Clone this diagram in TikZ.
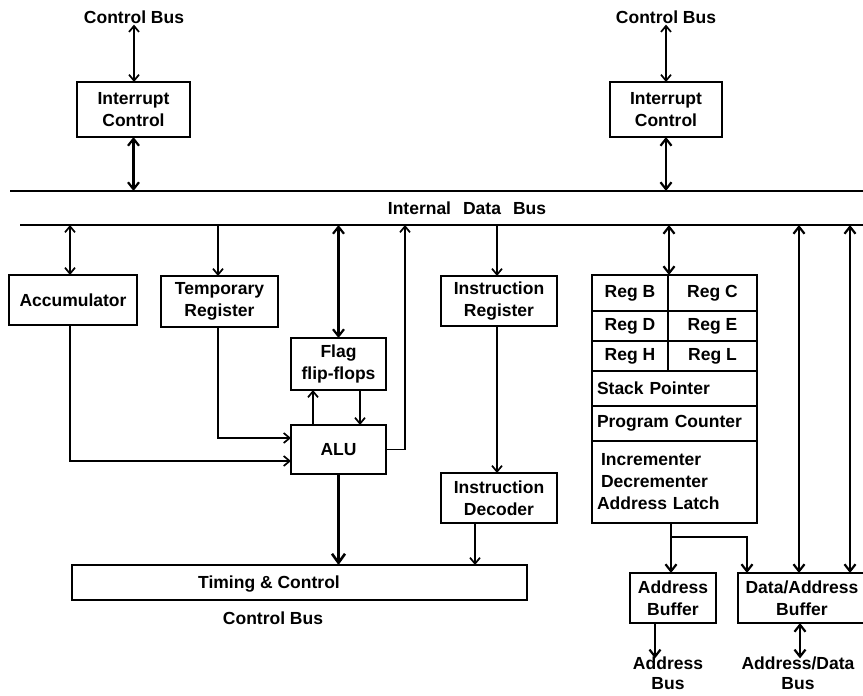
\documentclass[tikz,border=0pt]{standalone}
\usepackage{fontspec}
\setmainfont{Liberation Sans}
\usetikzlibrary{arrows.meta}
\newcommand\diaglab{\fontsize{17.5}{22}\selectfont\bfseries}
\newcommand\diagbus{\fontsize{17.5}{20}\selectfont\bfseries}
\begin{document}
\begin{tikzpicture}[x=1pt,y=-1pt,
  >={Straight Barb[length=6pt,width=10pt,line width=1.7pt]},
  box/.style={draw,line width=1.9pt,inner sep=0pt,outer sep=0pt,align=center,font=\diaglab},
  cellbox/.style={draw,line width=1.9pt,inner sep=0pt,outer sep=0pt,font=\diaglab},
  lab/.style={inner sep=1pt,align=center,font=\diaglab},
  thinc/.style={line width=1.5pt},
  thickc/.style={line width=2.5pt,>={Straight Barb[length=7pt,width=11pt,line width=2.2pt]}},
  busline/.style={line width=2.2pt}]
\useasboundingbox (0,0) rectangle (863,696);
\clip (0,0) rectangle (863,696);

% helper coordinates
\coordinate (bt) at (0,191);
\coordinate (bb) at (0,225);
\coordinate (xacc) at (70,0);
\coordinate (yacc) at (0,461);
\coordinate (xtmp) at (218,0);
\coordinate (ytmp) at (0,438);
\coordinate (xup) at (313,0);
\coordinate (xdn) at (360,0);
\coordinate (xid) at (475,0);
\coordinate (xir) at (497,0);
\coordinate (xreg) at (669,0);
\coordinate (spl) at (671,537);
\coordinate (xda) at (747,0);
\coordinate (xl1) at (799,0);
\coordinate (xl2) at (850,0);
\coordinate (xab) at (655,0);
\coordinate (xdb) at (800,0);

% top
\node[lab] (cbL) at (134,17) {Control Bus};
\node[lab] (cbR) at (666,17) {Control Bus};
\node[box,minimum width=113pt,minimum height=55pt] (icL) at (133.5,109.5) {Interrupt\\Control};
\node[box,minimum width=112pt,minimum height=55pt] (icR) at (666,109.5) {Interrupt\\Control};

% internal data bus
\draw[busline] (10,191) -- (870,191);
\draw[busline] (20,225) -- (870,225);
\node[lab] (idb) at (467,208) {Internal\hspace{12pt}Data\hspace{12pt}Bus};

\draw[thinc,<->] (cbL.south) -- (cbL.south |- icL.north);
\draw[thickc,<->] (icL.south) -- (icL.south |- bt);
\draw[thinc,<->] (cbR.south) -- (cbR.south |- icR.north);
\draw[thickc,<->] (icR.south) -- (icR.south |- bt);

% left part
\node[box,minimum width=128pt,minimum height=50pt] (acc) at (73,300) {Accumulator};
\node[box,minimum width=117pt,minimum height=51pt] (tmp) at (219.5,301.5) {Temporary\\Register};
\node[box,minimum width=95pt,minimum height=52pt] (flag) at (338.5,364) {Flag\\flip-flops};
\node[box,minimum width=95pt,minimum height=49pt] (alu) at (338.5,449.5) {ALU};
\node[box,minimum width=116pt,minimum height=50pt] (ir) at (499,301) {Instruction\\Register};
\node[box,minimum width=116pt,minimum height=50pt] (id) at (499,498) {Instruction\\Decoder};
\node[box,minimum width=455pt,minimum height=35pt] (tc) at (299.5,582.5) {};
\node[lab] (tclab) at (269,584) {Timing \& Control};
\node[lab] (cbB) at (273,618) {Control Bus};

\draw[thinc,<->] (bb -| xacc) -- (acc.north -| xacc);
\draw[thinc,->] (bb -| xtmp) -- (tmp.north -| xtmp);
\draw[thickc,<->] (flag.north |- bb) -- (flag.north);
\draw[thinc,->] (alu.east) -| (bb -| 405,0);
\draw[thinc,->] (alu.north -| xup) -- (flag.south -| xup);
\draw[thinc,->] (flag.south -| xdn) -- (alu.north -| xdn);
\draw[thinc,->] (acc.south -| xacc) |- (alu.west |- yacc);
\draw[thinc,->] (tmp.south -| xtmp) |- (alu.west |- ytmp);
\draw[thickc,->,>={Straight Barb[length=9pt,width=13pt,line width=2.6pt]}] (alu.south) -- (alu.south |- tc.north);
\draw[thinc,->] (bb -| xir) -- (ir.north -| xir);
\draw[thinc,->] (ir.south -| xir) -- (id.north -| xir);
\draw[thinc,->] (id.south -| xid) -- (tc.north -| xid);

% register array
\node[cellbox,minimum width=76pt,minimum height=36pt] (rB) at (630,293) {Reg B};
\node[cellbox,minimum width=89pt,minimum height=36pt] (rC) at (712.5,293) {Reg C};
\node[cellbox,minimum width=76pt,minimum height=30pt] (rD) at (630,326) {Reg D};
\node[cellbox,minimum width=89pt,minimum height=30pt] (rE) at (712.5,326) {Reg E};
\node[cellbox,minimum width=76pt,minimum height=30pt] (rH) at (630,356) {Reg H};
\node[cellbox,minimum width=89pt,minimum height=30pt] (rL) at (712.5,356) {Reg L};
\node[cellbox,text width=155pt,align=left,inner xsep=5pt,minimum height=35pt] (sp) at (674.5,388.5) {Stack Pointer};
\node[cellbox,text width=155pt,align=left,inner xsep=5pt,minimum height=35pt] (pc) at (674.5,423.5) {Program Counter};
\node[cellbox,text width=155pt,align=left,inner xsep=5pt,minimum height=82pt] (inc) at (674.5,482) {\hspace*{4pt}Incrementer\\\hspace*{4pt}Decrementer\\Address Latch};

\node[box,minimum width=86pt,minimum height=50pt] (ab) at (673,598) {Address\\Buffer};
\node[box,minimum width=128pt,minimum height=50pt] (dab) at (802,598) {Data/Address\\Buffer};
\node[lab,font=\diagbus,inner sep=0pt] (abus) at (668,673) {Address\\Bus};
\node[lab,font=\diagbus,inner sep=0pt] (dbus) at (798,673) {Address/Data\\Bus};

\draw[thickc,<->] (bb -| xreg) -- (rB.north -| xreg);
\draw[thickc,->] (inc.south -| spl) -- (ab.north -| spl);
\draw[thickc,->] (spl) -| (dab.north -| xda);
\draw[thickc,<->] (bb -| xl1) -- (dab.north -| xl1);
\draw[thickc,<->] (bb -| xl2) -- (dab.north -| xl2);
\draw[thickc,->] (ab.south -| xab) -- ([yshift=-2pt]abus.north -| xab);
\draw[thickc,<->] (dab.south -| xdb) -- ([yshift=-2pt]dbus.north -| xdb);
\end{tikzpicture}
\end{document}
